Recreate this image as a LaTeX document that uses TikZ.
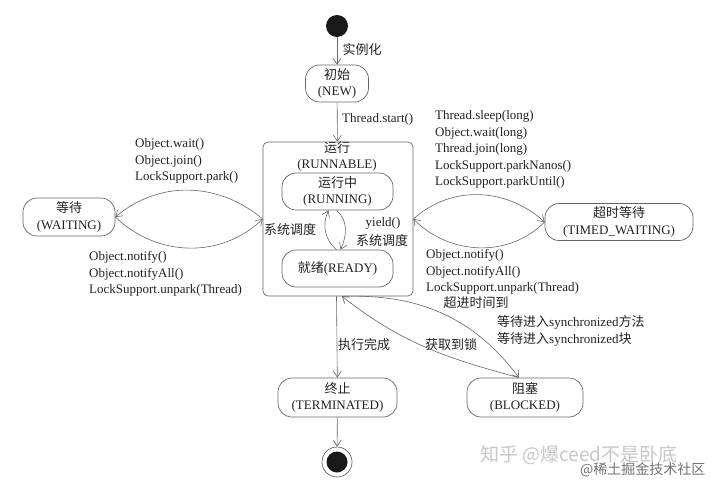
\documentclass[tikz,border=0pt]{standalone}
\usepackage{fontspec}
\setmainfont{Liberation Serif}
\newfontfamily\cjk{Noto Sans CJK SC}
\usetikzlibrary{arrows.meta}
\definecolor{ln}{HTML}{666666}
\definecolor{tx}{HTML}{222222}
\newcommand\fs{\fontsize{13}{16.5}\selectfont}
\tikzset{
  st/.style={draw=ln, line width=0.7pt, rounded corners=14pt, align=center, font=\fs, text=tx, inner sep=0pt},
  lbl/.style={font=\fs, text=tx, inner sep=0pt, align=left},
  arr/.style={draw=ln, line width=0.6pt, -{Straight Barb[length=6pt,width=8pt]}},
}
\begin{document}
\begin{tikzpicture}[x=1pt,y=-1pt]
\useasboundingbox[fill=white] (0,0) rectangle (720,484);

% states
\node[circle, fill=black!90, minimum size=22pt, inner sep=0pt] (start) at (337,26) {};
\node[st, minimum width=63pt, minimum height=37pt] (new) at (337,83.5) {{\cjk 初始}\\(NEW)};
\node[draw=ln, line width=0.7pt, rounded corners=5pt, minimum width=150pt, minimum height=154pt, inner sep=0pt] (run) at (338,219) {};
\node[lbl, align=center] (runt) at (337,156.5) {{\cjk 运行}\\(RUNNABLE)};
\node[st, minimum width=111pt, minimum height=37pt] (running) at (337.5,191.5) {{\cjk 运行中}\\(RUNNING)};
\node[st, minimum width=111pt, minimum height=37pt] (ready) at (337.5,268.5) {{\cjk 就绪}(READY)};
\node[st, minimum width=92pt, minimum height=38pt] (waiting) at (69,217) {{\cjk 等待}\\(WAITING)};
\node[st, minimum width=148pt, minimum height=37pt] (timed) at (619,222) {{\cjk 超时等待}\\(TIMED\_WAITING)};
\node[st, minimum width=119pt, minimum height=39pt] (term) at (337.5,397.5) {{\cjk 终止}\\(TERMINATED)};
\node[st, minimum width=116pt, minimum height=39pt] (blocked) at (525,397.5) {{\cjk 阻塞}\\(BLOCKED)};
\node[circle, draw=ln, line width=0.7pt, minimum size=30pt, inner sep=0pt] (end) at (337,462) {};
\node[circle, fill=black!90, minimum size=21pt, inner sep=0pt] (endin) at (end) {};

% connectors
\draw[arr] (start) -- (new);
\draw[arr] (new) -- (run);
\draw[arr] (run.west) to[out=140,in=40] (waiting.east);
\draw[arr] (waiting.east) to[out=-44,in=-136] (run.west);
\draw[arr] (run.east) to[out=42,in=138] (timed.west);
\draw[arr] (timed.west) to[out=-135,in=-45] (run.east);
\draw[arr] ([xshift=-1pt]ready.north) to[out=140,in=-115] ([xshift=-9pt]running.south);
\draw[arr] ([xshift=-1pt]running.south) to[out=-40,in=65] ([xshift=3pt]ready.north);
\draw[arr] ([xshift=-1.5pt]run.south) -- (term);
\draw[arr] ([xshift=4pt]run.south) to[out=2,in=127] ([xshift=-6pt]blocked.north);
\draw[arr] ([xshift=-6pt]blocked.north) to[out=165,in=-38] ([xshift=4pt]run.south);
\draw[arr] (term) -- (end);

% labels
\node[lbl] (l1) at (362,50) {\cjk 实例化};
\node[lbl, anchor=west] (l2) at (342,119) {Thread.start()};
\node[lbl, anchor=west] (l3) at (135,161) {Object.wait()\\Object.join()\\LockSupport.park()};
\node[lbl, anchor=west] (l4) at (89,274) {Object.notify()\\Object.notifyAll()\\LockSupport.unpark(Thread)};
\node[lbl, anchor=west] (l5) at (435,149.5) {Thread.sleep(long)\\Object.wait(long)\\Thread.join(long)\\LockSupport.parkNanos()\\LockSupport.parkUntil()};
\node[lbl, anchor=west] (l6) at (426,272) {Object.notify()\\Object.notifyAll()\\LockSupport.unpark(Thread)};
\node[lbl] (l7) at (290,230) {\cjk 系统调度};
\node[lbl] (l8) at (383,223) {yield()};
\node[lbl] (l9) at (382,240.5) {\cjk 系统调度};
\node[lbl] (l10) at (364,345) {\cjk 执行完成};
\node[lbl] (l11) at (451,345) {\cjk 获取到锁};
\node[lbl] (l12) at (476,303) {\cjk 超进时间到};
\node[lbl, anchor=west] (l13) at (497,331) {{\cjk 等待进入}synchronized{\cjk 方法}\\{\cjk 等待进入}synchronized{\cjk 块}};

% watermark
\node[inner sep=0pt, anchor=west, text=black!22, font=\cjk\fontsize{19}{19}\selectfont] (wm1) at (480,455) {知乎 @爆ceed不是卧底};
\node[inner sep=0pt, anchor=west, text=black!55, font=\cjk\fontsize{14}{14}\selectfont] (wm2) at (580,470) {@稀土掘金技术社区};
\end{tikzpicture}
\end{document}
